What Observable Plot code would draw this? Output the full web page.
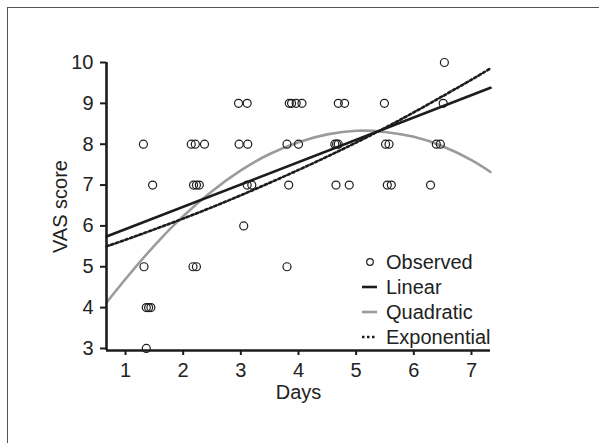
<!DOCTYPE html>
<html>
<head>
<meta charset="utf-8">
<script src="https://cdn.jsdelivr.net/npm/d3@7"></script>
<script src="https://cdn.jsdelivr.net/npm/@observablehq/plot@0.6"></script>
<style>
  html, body { margin: 0; padding: 0; background: #fff; }
  #wrap { position: relative; width: 599px; height: 443px; overflow: hidden; font-family: "Liberation Sans", Arial, sans-serif; }
  #frame { position: absolute; left: 7px; top: 7px; right: -10px; bottom: -10px; border-top: 1.5px solid #555; border-left: 1.5px solid #555; }
  #chart { position: absolute; left: 0; top: 0; }
  #legend { position: absolute; left: 0; top: 0; }
</style>
</head>
<body>
<div id="wrap">
  <div id="frame"></div>
  <div id="chart"></div>
  <svg id="legend" width="599" height="443"></svg>
</div>
<script>
// Observed points (days, VAS score)
const obsDays = [
  6.53,
  2.96, 3.11, 3.84, 3.88, 3.96, 4.06, 4.69, 4.80, 5.49, 6.51,
  1.31, 2.14, 2.21, 2.37, 2.97, 3.12, 3.80, 4.00, 4.63, 4.66, 4.69, 5.51, 5.57, 6.39, 6.46,
  1.47, 2.18, 2.23, 2.28, 3.11, 3.19, 3.83, 4.65, 4.88, 5.54, 5.61, 6.29,
  3.05,
  1.32, 2.17, 2.23, 3.80,
  1.36, 1.40, 1.44,
  1.36
];
const obsScore = [
  10,
  9, 9, 9, 9, 9, 9, 9, 9, 9, 9,
  8, 8, 8, 8, 8, 8, 8, 8, 8, 8, 8, 8, 8, 8, 8,
  7, 7, 7, 7, 7, 7, 7, 7, 7, 7, 7, 7,
  6,
  5, 5, 5, 5,
  4, 4, 4,
  3
];

// Fitted curves, values
const linearDays = [0.67, 7.33];
const linearScore = [5.74, 9.38];

const quadDays  = [0.67, 1, 1.5, 2, 2.5, 3, 3.5, 4, 4.5, 5, 5.5, 6, 6.5, 7, 7.33];
const quadScore = [4.12, 4.70, 5.52, 6.24, 6.85, 7.36, 7.76, 8.05, 8.24, 8.33, 8.30, 8.18, 7.95, 7.61, 7.32];

const expDays  = [0.67, 1, 2, 3, 4, 5, 6, 7, 7.33];
const expScore = [5.50, 5.66, 6.18, 6.75, 7.37, 8.04, 8.78, 9.58, 9.86];

const xTicks = [1, 2, 3, 4, 5, 6, 7];
const yTicks = [3, 4, 5, 6, 7, 8, 9, 10];
const xDomain = [0.67, 7.33];
const yDomain = [2.95, 10];

const legendLabels = ["Observed", "Linear", "Quadratic", "Exponential"];

const observed = obsDays.map((d, i) => ({day: d, score: obsScore[i]}));
const linear = linearDays.map((d, i) => ({day: d, score: linearScore[i]}));
const quad = quadDays.map((d, i) => ({day: d, score: quadScore[i]}));
const expo = expDays.map((d, i) => ({day: d, score: expScore[i]}));

const ink = "#1c1c1c";
const textInk = "#222";
const dots = "2.5,2.5";

const chart = Plot.plot({
  width: 599,
  height: 443,
  marginLeft: 106,
  marginRight: 109,
  marginTop: 62,
  marginBottom: 93,
  style: {background: "transparent", fontFamily: "'Liberation Sans', Arial, sans-serif", overflow: "visible"},
  x: {domain: xDomain},
  y: {domain: yDomain},
  marks: [
    Plot.line(quad, {x: "day", y: "score", stroke: "#9b9b9b", strokeWidth: 2.6, curve: "natural"}),
    Plot.line(linear, {x: "day", y: "score", stroke: ink, strokeWidth: 2.6}),
    Plot.line(expo, {x: "day", y: "score", stroke: ink, strokeWidth: 2.6, strokeDasharray: dots, curve: "natural"}),
    Plot.dot(observed, {x: "day", y: "score", r: 4, stroke: ink, strokeWidth: 1.2, fill: "none"}),
    Plot.ruleX([xDomain[0]], {y1: yDomain[0], y2: yDomain[1], stroke: ink, strokeWidth: 2.6}),
    Plot.ruleY([yDomain[0]], {x1: xDomain[0], x2: xDomain[1], stroke: ink, strokeWidth: 2.6}),
    Plot.axisY({ticks: yTicks, tickFormat: "d", tickSize: 6, tickPadding: 7, fontSize: 20, strokeWidth: 2, stroke: ink, fill: textInk, label: null}),
    Plot.axisX({ticks: xTicks, tickFormat: "d", tickSize: 5, tickPadding: 7, fontSize: 20, strokeWidth: 2, stroke: ink, fill: textInk, label: null}),
    Plot.text(["Days"], {frameAnchor: "bottom", textAnchor: "middle", lineAnchor: "bottom", dy: 48, fontSize: 20, fill: textInk}),
    Plot.text(["VAS score"], {frameAnchor: "left", textAnchor: "middle", lineAnchor: "middle", dx: -46, rotate: -90, fontSize: 20, fill: textInk})
  ]
});
document.getElementById("chart").appendChild(chart);

// Legend
const lg = d3.select("#legend");
const rowY = [262, 287, 312, 337];
const symX = 370, txtX = 386;
legendLabels.forEach((lab, i) => {
  const y = rowY[i];
  if (i === 0) {
    lg.append("circle").attr("cx", symX).attr("cy", y).attr("r", 3.3)
      .attr("fill", "none").attr("stroke", ink).attr("stroke-width", 1.2);
  } else {
    const ln = lg.append("line").attr("x1", symX - 8).attr("x2", symX + 7)
      .attr("y1", y).attr("y2", y).attr("stroke-width", 2.6);
    if (i === 1) ln.attr("stroke", ink);
    if (i === 2) ln.attr("stroke", "#9b9b9b");
    if (i === 3) ln.attr("stroke", ink).attr("stroke-dasharray", dots);
  }
  lg.append("text").attr("x", txtX).attr("y", y).attr("dy", "0.35em")
    .attr("font-size", 20).attr("fill", textInk)
    .attr("font-family", "'Liberation Sans', Arial, sans-serif")
    .text(lab);
});
</script>
</body>
</html>
